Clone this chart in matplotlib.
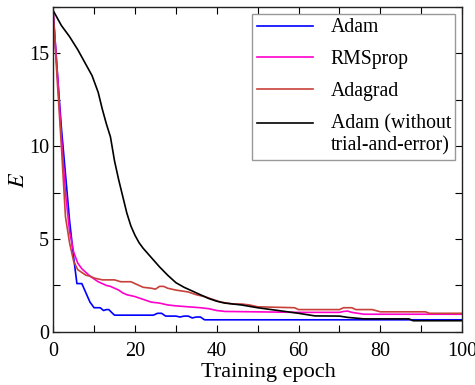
import matplotlib
matplotlib.use("Agg")
import matplotlib.pyplot as plt
from matplotlib.legend_handler import HandlerLine2D
from matplotlib.ticker import MultipleLocator

# loss E vs training epoch
adam_ep = [0, 1, 2, 3, 4, 5, 5.8, 7, 8, 9, 10, 11.5, 12.3, 13, 13.6, 14.5, 15,
           24.5, 25.5, 26.5, 27.5, 30, 31, 32, 33, 34, 35, 36, 37, 100]
adam_E = [17.2, 14.0, 11.0, 8.5, 6.0, 4.0, 2.6, 2.6, 2.1, 1.6, 1.3, 1.3, 1.15,
          1.2, 1.2, 1.0, 0.9, 0.9, 1.0, 1.0, 0.85, 0.85, 0.8, 0.85, 0.85, 0.75,
          0.8, 0.8, 0.65, 0.65]

rms_ep = [0, 1, 2, 3, 4, 5, 6, 7, 8, 9, 10, 11, 12, 13, 14, 15, 16, 17, 18, 19,
          20, 22, 24, 26, 28, 30, 33, 36, 38, 40, 42, 60, 70, 71, 72, 73, 76, 100]
rms_E = [17.2, 14.0, 10.5, 7.5, 5.4, 4.3, 3.7, 3.4, 3.2, 3.0, 2.85, 2.7, 2.6,
         2.5, 2.45, 2.35, 2.25, 2.1, 2.0, 1.95, 1.9, 1.75, 1.6, 1.55, 1.45, 1.4,
         1.35, 1.3, 1.25, 1.15, 1.1, 1.05, 1.05, 1.1, 1.12, 1.05, 0.95, 0.95]

adagrad_ep = [0, 1, 2, 3, 4, 5, 6, 7, 8, 9, 10, 11, 12, 15, 16.5, 19, 20, 22,
              24, 25, 26, 27, 28, 30, 33, 35, 37, 39, 41, 44, 46, 48, 50, 59,
              60, 70, 71, 73, 74, 78, 80, 91, 92, 100]
adagrad_E = [17.2, 13.5, 10.0, 6.2, 4.8, 3.8, 3.35, 3.2, 3.05, 3.0, 2.9, 2.85,
             2.8, 2.8, 2.7, 2.7, 2.6, 2.4, 2.35, 2.3, 2.45, 2.45, 2.35, 2.25,
             2.15, 2.0, 1.9, 1.75, 1.6, 1.5, 1.5, 1.45, 1.35, 1.3, 1.2, 1.2,
             1.3, 1.3, 1.2, 1.2, 1.08, 1.08, 1.0, 1.0]

notrial_ep = [0, 2, 4, 6, 8, 9.5, 11, 12, 13, 14, 15, 16, 17, 18, 19, 20, 21,
              22, 23, 24, 26, 28, 30, 32, 34, 36, 38, 40, 42, 44, 46, 50, 55,
              60, 64, 70, 72, 76, 87, 88, 100]
notrial_E = [17.3, 16.5, 15.9, 15.2, 14.4, 13.8, 12.9, 12.0, 11.2, 10.5, 9.2,
             8.2, 7.3, 6.4, 5.7, 5.2, 4.8, 4.5, 4.25, 4.0, 3.5, 3.05, 2.65,
             2.4, 2.2, 2.0, 1.8, 1.65, 1.55, 1.5, 1.45, 1.3, 1.15, 1.0, 0.86,
             0.85, 0.78, 0.7, 0.7, 0.6, 0.6]


class FirstLineHandler(HandlerLine2D):
    """Put the legend line level with the first line of a two-line label."""

    def __init__(self, shift, **kw):
        super().__init__(**kw)
        self.shift = shift

    def create_artists(self, legend, orig_handle, xdescent, ydescent,
                       width, height, fontsize, trans):
        arts = super().create_artists(legend, orig_handle, xdescent, ydescent,
                                      width, height, fontsize, trans)
        for a in arts:
            a.set_ydata([y + self.shift for y in a.get_ydata()])
        return arts


plt.rcParams["font.family"] = "Liberation Serif"
plt.rcParams["mathtext.fontset"] = "stix"

fig = plt.figure(figsize=(4.75, 3.85), dpi=100)
ax = fig.add_axes([0.112, 0.138, 0.861, 0.844])

lw = 1.2
ax.plot(adam_ep, adam_E, color="#0000ff", lw=lw, label="Adam")
ax.plot(rms_ep, rms_E, color="#ff00cc", lw=lw, label="RMSprop")
ax.plot(adagrad_ep, adagrad_E, color="#c8403a", lw=lw, label="Adagrad")
l4, = ax.plot(notrial_ep, notrial_E, color="black", lw=lw,
              label="Adam (without\ntrial-and-error)")

ax.set_xlim(0, 100)
ax.set_ylim(0, 17.5)
ax.xaxis.set_major_locator(MultipleLocator(20))
ax.xaxis.set_minor_locator(MultipleLocator(10))
ax.yaxis.set_major_locator(MultipleLocator(5))
ax.yaxis.set_minor_locator(MultipleLocator(2.5))
ax.tick_params(which="both", direction="in", top=True, right=True,
               length=5, width=0.8, labelsize=14.5)
ax.tick_params(axis="x", pad=7)
ax.tick_params(axis="y", pad=3)
for s in ax.spines.values():
    s.set_linewidth(1.0)
    s.set_color("#222222")

ax.set_xlabel("Training epoch", fontsize=16)
ax.xaxis.set_label_coords(0.526, -0.095)
ax.set_ylabel("$E$", fontsize=16)
ax.yaxis.set_label_coords(-0.06, 0.468)

leg = ax.legend(loc="upper right", bbox_to_anchor=(0.983, 0.978),
                borderaxespad=0, fontsize=14.2, handlelength=2.85,
                handletextpad=0.9, labelspacing=0.65, fancybox=False,
                framealpha=1, edgecolor="#999999", borderpad=0.22,
                handler_map={l4: FirstLineHandler(shift=8.5)})
leg.get_frame().set_linewidth(1.0)
leg.get_texts()[3].set_linespacing(1.25)

fig.savefig("out.png", dpi=100)
